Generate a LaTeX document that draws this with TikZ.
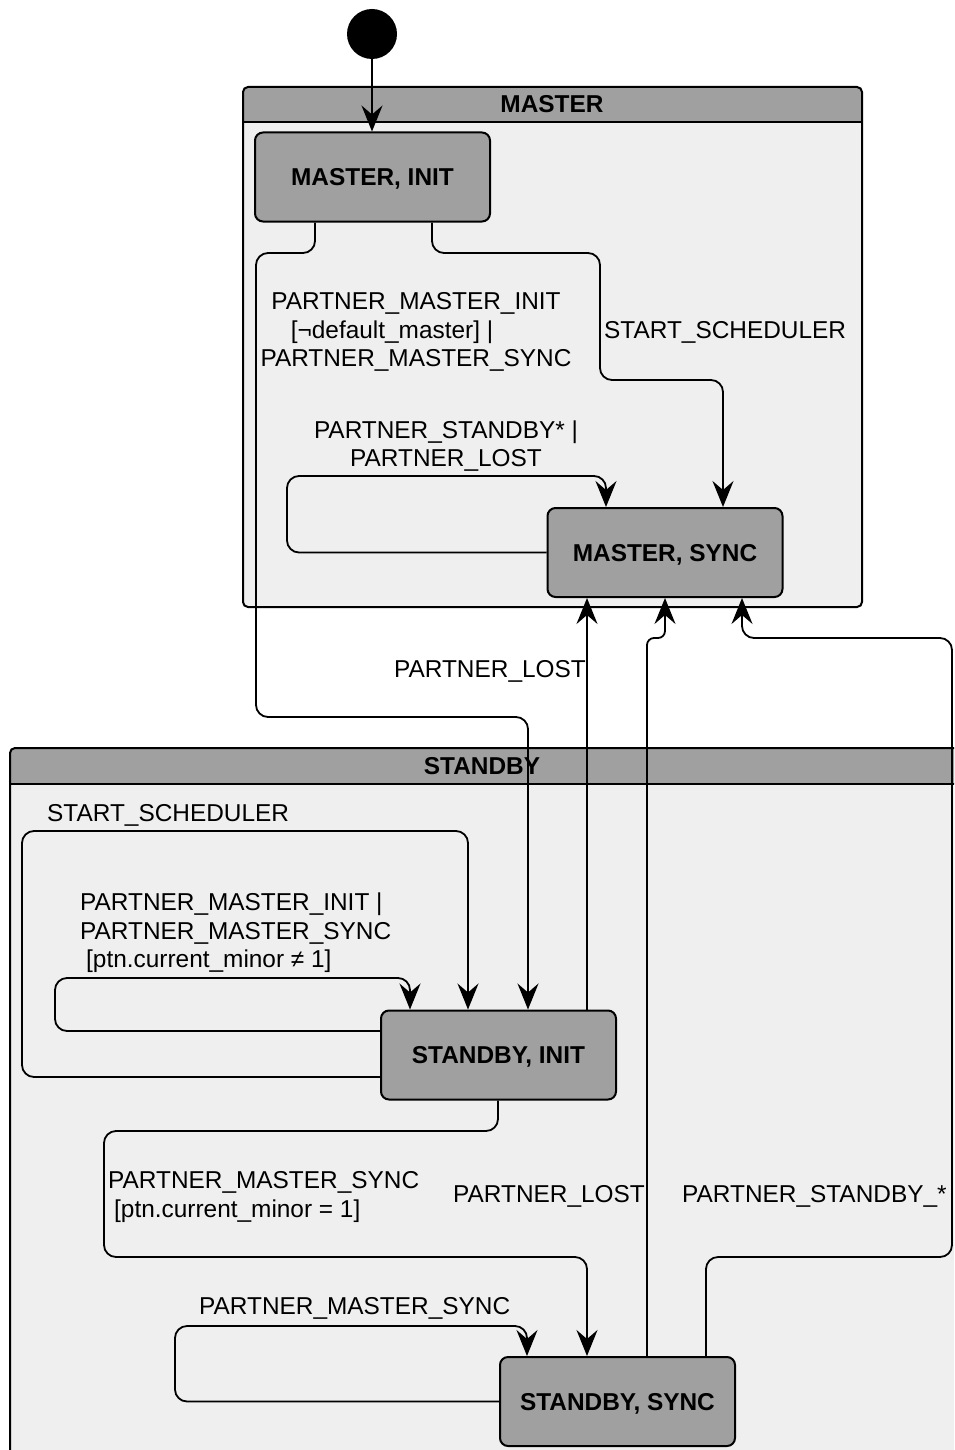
\documentclass[tikz,border=0pt]{standalone}
\usepackage{fontspec}
\setmainfont{Liberation Sans}
\usetikzlibrary{arrows.meta}
\definecolor{hdr}{HTML}{A0A0A0}
\definecolor{bodyfill}{HTML}{EFEFEF}

\begin{document}
\begin{tikzpicture}[x=1pt,y=-1pt,
  every node/.style={font=\fontsize{24.4pt}{28.6pt}\selectfont},
  state/.style={draw, line width=2pt, fill=hdr, rounded corners=8pt,
    minimum width=235pt, minimum height=89pt, inner sep=0pt, text depth=0pt,
    font=\fontsize{24.4pt}{28.6pt}\selectfont\bfseries},
  initial/.style={circle, fill=black, minimum size=50pt, inner sep=0pt},
  trans/.style={draw, line width=1.8pt, rounded corners=12pt,
    -{Stealth[length=26pt,width=21pt,inset=9pt]}},
  lbl/.style={inner sep=0pt},
  title/.style={inner sep=0pt, text depth=0pt,
    font=\fontsize{24.4pt}{28.6pt}\selectfont\bfseries},
  frame/.style={draw, line width=2pt, rounded corners=5pt}
]
\useasboundingbox (0,0) rectangle (954,1450);
\clip (0,0) rectangle (954,1450);

% composite state MASTER
\fill[bodyfill, rounded corners=5pt] (243,87) rectangle (862,607);
\begin{scope}
  \clip[rounded corners=5pt] (243,87) rectangle (862,607);
  \fill[hdr] (243,87) rectangle (862,122);
\end{scope}
\draw[frame] (243,87) rectangle (862,607);
\draw[line width=2pt] (243,122) -- (862,122);
\node[title] (mtitle) at (552,104) {MASTER};

% composite state STANDBY (runs past the right and bottom edges)
\fill[bodyfill, rounded corners=5pt] (10,748) rectangle (964,1480);
\begin{scope}
  \clip[rounded corners=5pt] (10,748) rectangle (964,1480);
  \fill[hdr] (10,748) rectangle (964,783.5);
\end{scope}
\draw[frame] (10,748) rectangle (964,1480);
\draw[line width=2pt] (10,783.5) -- (964,783.5);
\node[title] (stitle) at (482,766) {STANDBY};

% states
\node[initial] (start) at (372,34) {};
\node[state] (minit) at (372.5,177) {MASTER, INIT};
\node[state] (msync) at (665,552.5) {MASTER, SYNC};
\node[state] (sinit) at (498.5,1055) {STANDBY, INIT};
\node[state] (ssync) at (617.5,1401.5) {STANDBY, SYNC};

% transitions
\draw[trans] (start.south) -- (start.south |- minit.north);

\draw[trans] (minit.south -| 315,0) -- (315,253) -- (256,253) -- (256,717)
  -- (528,717) -- (sinit.north -| 528,0);
\node[lbl, align=center] (l1) at (416,332)
  {PARTNER\_MASTER\_INIT\\{}[¬default\_master] |\hspace*{48pt}\mbox{}\\PARTNER\_MASTER\_SYNC};

\draw[trans] (minit.south -| 432,0) -- (432,253) -- (600,253) -- (600,380)
  -- (723,380) -- (msync.north -| 723,0);
\node[lbl, anchor=west] (l2) at (604,332) {START\_SCHEDULER};

\draw[trans] (msync.west) -- (287,552.5) -- (287,476) -- (606,476)
  -- (msync.north -| 606,0);
\node[lbl, align=center] (l3) at (446,446) {PARTNER\_STANDBY* |\\PARTNER\_LOST};

\draw[trans] (sinit.north -| 587,0) -- (msync.south -| 587,0);
\node[lbl, anchor=east] (l4) at (586,671) {PARTNER\_LOST};

\draw[trans, rounded corners=7pt] (ssync.north -| 647,0) -- (647,638) -- (665,638)
  -- (msync.south -| 665,0);
\node[lbl, anchor=west] (l8) at (453,1196) {PARTNER\_LOST};

\draw[trans] (ssync.north -| 706,0) -- (706,1257) -- (952,1257) -- (952,638)
  -- (742,638) -- (msync.south -| 742,0);
\node[lbl, anchor=west] (l9) at (682,1196) {PARTNER\_STANDBY\_*};

\draw[trans] (sinit.west |- 0,1077) -- (22,1077) -- (22,831) -- (468,831)
  -- (sinit.north -| 468,0);
\node[lbl, anchor=west] (l5) at (47,815) {START\_SCHEDULER};

\draw[trans] (sinit.west |- 0,1031) -- (55,1031) -- (55,978) -- (410,978)
  -- (sinit.north -| 410,0);
\node[lbl, align=left, anchor=west] (l6) at (80,933)
  {PARTNER\_MASTER\_INIT |\\PARTNER\_MASTER\_SYNC\\\hspace*{6pt}[ptn.current\_minor ≠ 1]};

\draw[trans] (sinit.south -| 498,0) -- (498,1131) -- (104,1131) -- (104,1257)
  -- (587,1257) -- (ssync.north -| 587,0);
\node[lbl, align=left, anchor=west] (l7) at (108,1197)
  {PARTNER\_MASTER\_SYNC\\\hspace*{6pt}[ptn.current\_minor = 1]};

\draw[trans] (ssync.west) -- (175,1401.5) -- (175,1326) -- (527,1326)
  -- (ssync.north -| 527,0);
\node[lbl, anchor=west] (l10) at (199,1308) {PARTNER\_MASTER\_SYNC};
\end{tikzpicture}
\end{document}
